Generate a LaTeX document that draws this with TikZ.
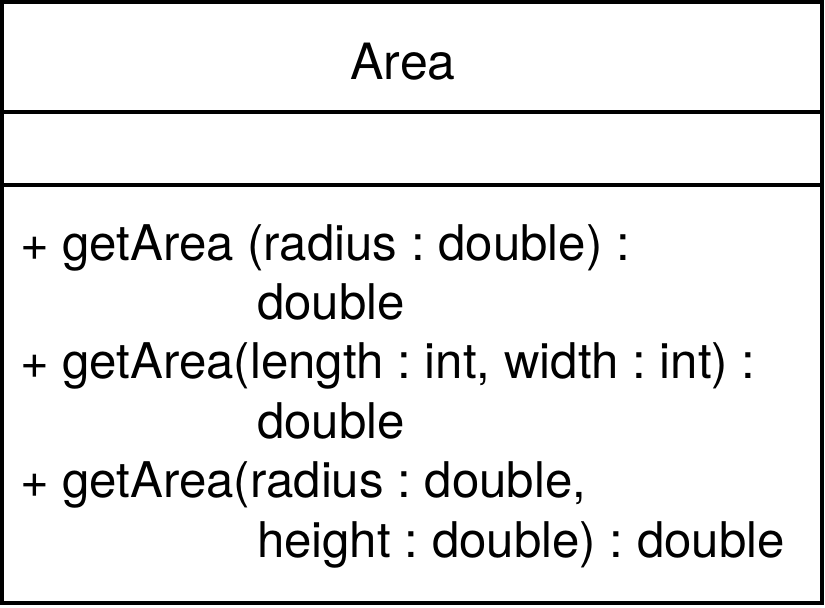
\documentclass[tikz,border=0pt]{standalone}
\usepackage{fontspec}
\setmainfont{TeX Gyre Heros}
\frenchspacing
\begin{document}
\begin{tikzpicture}[x=1pt,y=-1pt,
  frame/.style={draw=black,line width=4pt},
  rule/.style={draw=black,line width=4pt},
  label/.style={inner sep=0pt,outer sep=0pt,font=\fontsize{49.2}{59}\selectfont,anchor=base west},
  titletext/.style={inner sep=0pt,outer sep=0pt,font=\fontsize{50}{59}\selectfont,anchor=base}]
\useasboundingbox (0,0) rectangle (825,608);
% class frame and compartment separators
\draw[frame] (2,2) rectangle (822,603);
\coordinate (s1l) at (2,112);
\coordinate (s1r) at (822,112);
\coordinate (s2l) at (2,185);
\coordinate (s2r) at (822,185);
\draw[rule] (s1l) -- (s1r);
\draw[rule] (s2l) -- (s2r);
% class name
\node[titletext] (name) at (403,79) {Area};
% operations
\node[label] (op1a) at (20,260) {+ getArea (radius : double) :};
\node[label] (op1b) at (257,319.4) {double};
\node[label] (op2a) at (20,378.8) {+ getArea(length : int, width : int) :};
\node[label] (op2b) at (257,438.2) {double};
\node[label] (op3a) at (20,497.6) {+ getArea(radius : double,};
\node[label] (op3b) at (257,557) {height : double) : double};
\end{tikzpicture}
\end{document}
